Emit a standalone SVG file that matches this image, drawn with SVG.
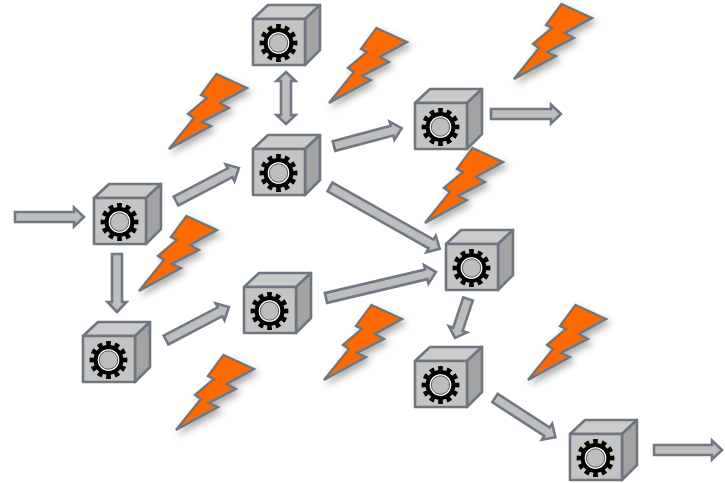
<svg xmlns="http://www.w3.org/2000/svg" width="725" height="483" viewBox="0 0 725 483">
<style>
.o{stroke:#6e7680;stroke-width:2.6;stroke-linejoin:round}
.a{fill:#bebebe;stroke:#707884;stroke-width:2.6;stroke-linejoin:miter}
.b{fill:#ff6a00;stroke:#6e7680;stroke-width:2.4;stroke-linejoin:miter;filter:url(#sh)}
</style>
<defs>
<filter id="sh" x="-30%" y="-30%" width="170%" height="170%"><feDropShadow dx="3" dy="4" stdDeviation="3.5" flood-color="#000" flood-opacity=".32"/></filter>
<g id="cube">
<path class="o" fill="#cbcbcb" d="M0,0L15,-14H67L52,0Z"/>
<path class="o" fill="#a3a3a3" d="M52,0L67,-14V31L52,46Z"/>
<rect class="o" fill="#c4c4c4" width="52" height="46"/>
<circle cx="25.500" cy="24" r="16.300" fill="none" stroke="#000" stroke-width="5.200" pathLength="24" stroke-dasharray="1.100 .9" stroke-dashoffset=".55"/>
<circle cx="25.500" cy="24" r="12.800" fill="none" stroke="#000" stroke-width="4.400"/>
<circle cx="25.500" cy="24" r="10.200" fill="#c4c4c4" stroke="#fff" stroke-width="1.200"/>
<circle cx="25.500" cy="24" r="9.200" fill="#bdbdbd" stroke="#333" stroke-width=".7"/>
</g>
<path id="bolt" class="b" d="M47.500,-75L78,-61L51,-46L60,-41L33,-27L42,-23L0,0L25,-31L19,-35L38,-51L32,-54Z"/>
</defs>
<g id="bolts">
<use href="#bolt" x="169" y="149"/>
<use href="#bolt" x="329" y="103"/>
<use href="#bolt" x="514" y="79"/>
<use href="#bolt" x="425" y="223"/>
<use href="#bolt" x="139" y="291"/>
<use href="#bolt" x="324" y="380"/>
<use href="#bolt" x="176" y="430"/>
<use href="#bolt" x="528" y="380"/>
</g>
<g id="connectors">
<path class="a" transform="translate(15,217)" d="M0,-5H59V-9.500L69,0L59,9.500V5H0Z"/>
<path class="a" transform="translate(117,254) rotate(90)" d="M0,-5H48V-9.500L58,0L48,9.500V5H0Z"/>
<path class="a" transform="translate(176,201) rotate(-27.6)" d="M0,-5H61V-9.500L71,0L61,9.500V5H0Z"/>
<path class="a" transform="translate(166,340) rotate(-27.6)" d="M0,-5H61V-9.500L71,0L61,9.500V5H0Z"/>
<path class="a" transform="translate(326,298) rotate(-13.3)" d="M0,-5H103V-9.500L113,0L103,9.500V5H0Z"/>
<path class="a" transform="translate(330,187) rotate(29.4)" d="M0,-5H116V-9.500L126,0L116,9.500V5H0Z"/>
<path class="a" transform="translate(334,146) rotate(-14.8)" d="M0,-5H60V-9.500L70,0L60,9.500V5H0Z"/>
<path class="a" transform="translate(491,114)" d="M0,-5H60V-9.500L70,0L60,9.500V5H0Z"/>
<path class="a" transform="translate(286,72) rotate(90)" d="M0,0L9,-9.500V-5H43V-9.500L52,0L43,9.500V5H9V9.500Z"/>
<path class="a" transform="translate(468,299) rotate(108.4)" d="M0,-5H32V-9.500L41,0L32,9.500V5H0Z"/>
<path class="a" transform="translate(495,398) rotate(33)" d="M0,-5H62V-9.500L72,0L62,9.500V5H0Z"/>
<path class="a" transform="translate(654,450)" d="M0,-5H58V-9.500L68,0L58,9.500V5H0Z"/>
</g>
<g id="node-1"><use href="#cube" x="94" y="198"/></g>
<g id="node-2"><use href="#cube" x="253" y="19"/></g>
<g id="node-3"><use href="#cube" x="253" y="149"/></g>
<g id="node-4"><use href="#cube" x="415" y="103"/></g>
<g id="node-5"><use href="#cube" x="446" y="244"/></g>
<g id="node-6"><use href="#cube" x="83" y="336"/></g>
<g id="node-7"><use href="#cube" x="244" y="287"/></g>
<g id="node-8"><use href="#cube" x="415" y="361"/></g>
<g id="node-9"><use href="#cube" x="570" y="434"/></g>
</svg>
